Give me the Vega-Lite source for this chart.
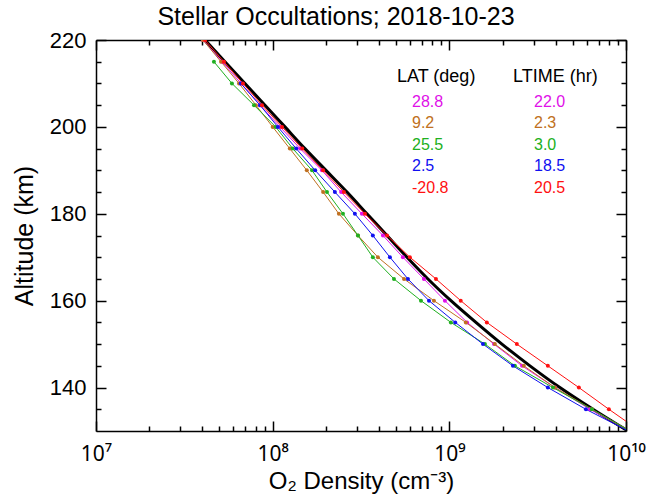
{
  "$schema": "https://vega.github.io/schema/vega-lite/v6.json",
  "width": 530,
  "height": 391,
  "autosize": {"type": "none"},
  "padding": {"left": 96, "top": 40, "right": 22, "bottom": 64},
  "background": "white",
  "config": {
    "view": {"stroke": null},
    "font": "Liberation Sans",
    "axis": {"grid": false, "domainColor": "black", "domainWidth": 1.5, "tickColor": "black", "tickWidth": 1.5, "labelColor": "black", "titleColor": "black", "labelFont": "Liberation Sans", "titleFont": "Liberation Sans", "titleFontWeight": "normal", "labelOverlap": false, "labelFlush": false},
    "legend": {"titleFont": "Liberation Sans", "labelFont": "Liberation Sans", "titleFontWeight": "normal", "titleColor": "black"}
  },
  "title": {"text": "Stellar Occultations; 2018-10-23", "fontSize": 25, "font": "Liberation Sans", "fontWeight": "normal", "color": "black", "anchor": "middle", "frame": "group", "dx": -25, "dy": 7, "offset": 6},
  "datasets": {
    "model": [
      {"alt": 220, "dens": 4.14e7}, {"alt": 215, "dens": 5.37e7}, {"alt": 210, "dens": 6.97e7}, {"alt": 205, "dens": 9.05e7},
      {"alt": 200, "dens": 1.174e8}, {"alt": 195, "dens": 1.523e8}, {"alt": 190, "dens": 2.003e8}, {"alt": 185, "dens": 2.634e8},
      {"alt": 180, "dens": 3.417e8}, {"alt": 175, "dens": 4.436e8}, {"alt": 170, "dens": 5.757e8}, {"alt": 165, "dens": 7.568e8},
      {"alt": 160, "dens": 1.021e9}, {"alt": 155, "dens": 1.414e9}, {"alt": 150, "dens": 1.985e9}, {"alt": 145, "dens": 2.86e9},
      {"alt": 140, "dens": 4.226e9}, {"alt": 135, "dens": 6.5e9}, {"alt": 130, "dens": 1.025e10}
    ],
    "obs": [
      {"lat": "28.8", "ltime": "22.0", "alt": 220, "dens": 4.03e7},
      {"lat": "28.8", "ltime": "22.0", "alt": 215, "dens": 5.17e7},
      {"lat": "28.8", "ltime": "22.0", "alt": 210, "dens": 6.62e7},
      {"lat": "28.8", "ltime": "22.0", "alt": 205, "dens": 8.48e7},
      {"lat": "28.8", "ltime": "22.0", "alt": 200, "dens": 1.1e8},
      {"lat": "28.8", "ltime": "22.0", "alt": 195, "dens": 1.43e8},
      {"lat": "28.8", "ltime": "22.0", "alt": 190, "dens": 1.9e8},
      {"lat": "28.8", "ltime": "22.0", "alt": 185, "dens": 2.44e8},
      {"lat": "28.8", "ltime": "22.0", "alt": 180, "dens": 3.2e8},
      {"lat": "28.8", "ltime": "22.0", "alt": 175, "dens": 4.21e8},
      {"lat": "28.8", "ltime": "22.0", "alt": 170, "dens": 5.46e8},
      {"lat": "28.8", "ltime": "22.0", "alt": 165, "dens": 7.18e8},
      {"lat": "28.8", "ltime": "22.0", "alt": 160, "dens": 9.44e8},
      {"lat": "28.8", "ltime": "22.0", "alt": 155, "dens": 1.26e9},
      {"lat": "28.8", "ltime": "22.0", "alt": 150, "dens": 1.79e9},
      {"lat": "28.8", "ltime": "22.0", "alt": 145, "dens": 2.58e9},
      {"lat": "28.8", "ltime": "22.0", "alt": 140, "dens": 3.96e9},
      {"lat": "28.8", "ltime": "22.0", "alt": 135, "dens": 6.25e9},
      {"lat": "28.8", "ltime": "22.0", "alt": 130, "dens": 1.05e10},
      {"lat": "9.2", "ltime": "2.3", "alt": 220, "dens": 4.03e7},
      {"lat": "9.2", "ltime": "2.3", "alt": 215, "dens": 5.1e7},
      {"lat": "9.2", "ltime": "2.3", "alt": 210, "dens": 6.45e7},
      {"lat": "9.2", "ltime": "2.3", "alt": 205, "dens": 8.04e7},
      {"lat": "9.2", "ltime": "2.3", "alt": 200, "dens": 1.0e8},
      {"lat": "9.2", "ltime": "2.3", "alt": 195, "dens": 1.25e8},
      {"lat": "9.2", "ltime": "2.3", "alt": 190, "dens": 1.56e8},
      {"lat": "9.2", "ltime": "2.3", "alt": 185, "dens": 1.93e8},
      {"lat": "9.2", "ltime": "2.3", "alt": 180, "dens": 2.37e8},
      {"lat": "9.2", "ltime": "2.3", "alt": 175, "dens": 3.04e8},
      {"lat": "9.2", "ltime": "2.3", "alt": 170, "dens": 3.94e8},
      {"lat": "9.2", "ltime": "2.3", "alt": 165, "dens": 5.54e8},
      {"lat": "9.2", "ltime": "2.3", "alt": 160, "dens": 8.18e8},
      {"lat": "9.2", "ltime": "2.3", "alt": 155, "dens": 1.24e9},
      {"lat": "9.2", "ltime": "2.3", "alt": 150, "dens": 1.81e9},
      {"lat": "9.2", "ltime": "2.3", "alt": 145, "dens": 2.64e9},
      {"lat": "9.2", "ltime": "2.3", "alt": 140, "dens": 3.96e9},
      {"lat": "9.2", "ltime": "2.3", "alt": 135, "dens": 6.41e9},
      {"lat": "9.2", "ltime": "2.3", "alt": 130, "dens": 1.05e10},
      {"lat": "25.5", "ltime": "3.0", "alt": 215, "dens": 4.65e7},
      {"lat": "25.5", "ltime": "3.0", "alt": 210, "dens": 5.88e7},
      {"lat": "25.5", "ltime": "3.0", "alt": 205, "dens": 7.84e7},
      {"lat": "25.5", "ltime": "3.0", "alt": 200, "dens": 1.04e8},
      {"lat": "25.5", "ltime": "3.0", "alt": 195, "dens": 1.3e8},
      {"lat": "25.5", "ltime": "3.0", "alt": 190, "dens": 1.67e8},
      {"lat": "25.5", "ltime": "3.0", "alt": 185, "dens": 2.03e8},
      {"lat": "25.5", "ltime": "3.0", "alt": 180, "dens": 2.5e8},
      {"lat": "25.5", "ltime": "3.0", "alt": 175, "dens": 3.04e8},
      {"lat": "25.5", "ltime": "3.0", "alt": 170, "dens": 3.69e8},
      {"lat": "25.5", "ltime": "3.0", "alt": 165, "dens": 4.86e8},
      {"lat": "25.5", "ltime": "3.0", "alt": 160, "dens": 6.91e8},
      {"lat": "25.5", "ltime": "3.0", "alt": 155, "dens": 1.02e9},
      {"lat": "25.5", "ltime": "3.0", "alt": 150, "dens": 1.59e9},
      {"lat": "25.5", "ltime": "3.0", "alt": 145, "dens": 2.35e9},
      {"lat": "25.5", "ltime": "3.0", "alt": 140, "dens": 3.86e9},
      {"lat": "25.5", "ltime": "3.0", "alt": 135, "dens": 6.41e9},
      {"lat": "25.5", "ltime": "3.0", "alt": 130, "dens": 1.05e10},
      {"lat": "2.5", "ltime": "18.5", "alt": 210, "dens": 6.6e7},
      {"lat": "2.5", "ltime": "18.5", "alt": 205, "dens": 8.48e7},
      {"lat": "2.5", "ltime": "18.5", "alt": 200, "dens": 1.07e8},
      {"lat": "2.5", "ltime": "18.5", "alt": 195, "dens": 1.36e8},
      {"lat": "2.5", "ltime": "18.5", "alt": 190, "dens": 1.74e8},
      {"lat": "2.5", "ltime": "18.5", "alt": 185, "dens": 2.25e8},
      {"lat": "2.5", "ltime": "18.5", "alt": 180, "dens": 2.92e8},
      {"lat": "2.5", "ltime": "18.5", "alt": 175, "dens": 3.69e8},
      {"lat": "2.5", "ltime": "18.5", "alt": 170, "dens": 4.61e8},
      {"lat": "2.5", "ltime": "18.5", "alt": 165, "dens": 5.83e8},
      {"lat": "2.5", "ltime": "18.5", "alt": 160, "dens": 7.67e8},
      {"lat": "2.5", "ltime": "18.5", "alt": 155, "dens": 1.08e9},
      {"lat": "2.5", "ltime": "18.5", "alt": 150, "dens": 1.55e9},
      {"lat": "2.5", "ltime": "18.5", "alt": 145, "dens": 2.29e9},
      {"lat": "2.5", "ltime": "18.5", "alt": 140, "dens": 3.61e9},
      {"lat": "2.5", "ltime": "18.5", "alt": 135, "dens": 5.93e9},
      {"lat": "2.5", "ltime": "18.5", "alt": 130, "dens": 1.03e10},
      {"lat": "-20.8", "ltime": "20.5", "alt": 220, "dens": 4.14e7},
      {"lat": "-20.8", "ltime": "20.5", "alt": 215, "dens": 5.3e7},
      {"lat": "-20.8", "ltime": "20.5", "alt": 210, "dens": 6.79e7},
      {"lat": "-20.8", "ltime": "20.5", "alt": 205, "dens": 8.7e7},
      {"lat": "-20.8", "ltime": "20.5", "alt": 200, "dens": 1.13e8},
      {"lat": "-20.8", "ltime": "20.5", "alt": 195, "dens": 1.47e8},
      {"lat": "-20.8", "ltime": "20.5", "alt": 190, "dens": 1.93e8},
      {"lat": "-20.8", "ltime": "20.5", "alt": 185, "dens": 2.53e8},
      {"lat": "-20.8", "ltime": "20.5", "alt": 180, "dens": 3.33e8},
      {"lat": "-20.8", "ltime": "20.5", "alt": 175, "dens": 4.44e8},
      {"lat": "-20.8", "ltime": "20.5", "alt": 170, "dens": 5.98e8},
      {"lat": "-20.8", "ltime": "20.5", "alt": 165, "dens": 8.4e8},
      {"lat": "-20.8", "ltime": "20.5", "alt": 160, "dens": 1.16e9},
      {"lat": "-20.8", "ltime": "20.5", "alt": 155, "dens": 1.63e9},
      {"lat": "-20.8", "ltime": "20.5", "alt": 150, "dens": 2.41e9},
      {"lat": "-20.8", "ltime": "20.5", "alt": 145, "dens": 3.61e9},
      {"lat": "-20.8", "ltime": "20.5", "alt": 140, "dens": 5.41e9},
      {"lat": "-20.8", "ltime": "20.5", "alt": 135, "dens": 8.0e9},
      {"lat": "-20.8", "ltime": "20.5", "alt": 130, "dens": 1.2e10}
    ]
  },
  "resolve": {"axis": {"x": "independent", "y": "independent"}},
  "layer": [
    {
      "data": {"name": "model"},
      "mark": {"type": "line", "color": "black", "strokeWidth": 3, "interpolate": "monotone", "clip": true},
      "encoding": {
        "x": {"field": "dens", "type": "quantitative",
              "scale": {"type": "log", "domain": [10000000, 10000000000], "nice": false},
              "axis": {"orient": "bottom", "title": "O₂ Density (cm⁻³)", "titleFontSize": 24, "titlePadding": 0, "labelFont": "Noto Sans", "labelFontSize": 21, "labelPadding": 22,
                       "values": [10000000, 20000000, 30000000, 40000000, 50000000, 60000000, 70000000, 80000000, 90000000, 100000000, 200000000, 300000000, 400000000, 500000000, 600000000, 700000000, 800000000, 900000000, 1000000000, 2000000000, 3000000000, 4000000000, 5000000000, 6000000000, 7000000000, 8000000000, 9000000000, 10000000000],
                       "labelExpr": "datum.value == 10000000 ? '10⁷' : datum.value == 100000000 ? '10⁸' : datum.value == 1000000000 ? '10⁹' : datum.value == 10000000000 ? '10¹⁰' : ''",
                       "tickSize": {"condition": {"test": "indexof([10000000, 100000000, 1000000000, 10000000000], datum.value) >= 0", "value": -10}, "value": -5}}},
        "y": {"field": "alt", "type": "quantitative",
              "scale": {"domain": [130, 220], "nice": false, "zero": false},
              "axis": {"orient": "left", "title": "Altitude (km)", "titleFontSize": 25, "titlePadding": 12, "labelFontSize": 22, "labelPadding": 20,
                       "values": [135, 140, 145, 150, 155, 160, 165, 170, 175, 180, 185, 190, 195, 200, 205, 210, 215, 220],
                       "labelExpr": "datum.value % 20 == 0 ? datum.label : ''",
                       "tickSize": {"condition": {"test": "datum.value % 20 == 0", "value": -10}, "value": -5}}}
      }
    },
    {
      "data": {"name": "obs"},
      "mark": {"type": "line", "strokeWidth": 1, "clip": true},
      "encoding": {
        "x": {"field": "dens", "type": "quantitative",
              "axis": {"orient": "top", "title": null, "labels": false,
                       "values": [10000000, 20000000, 30000000, 40000000, 50000000, 60000000, 70000000, 80000000, 90000000, 100000000, 200000000, 300000000, 400000000, 500000000, 600000000, 700000000, 800000000, 900000000, 1000000000, 2000000000, 3000000000, 4000000000, 5000000000, 6000000000, 7000000000, 8000000000, 9000000000, 10000000000],
                       "tickSize": {"condition": {"test": "indexof([10000000, 100000000, 1000000000, 10000000000], datum.value) >= 0", "value": -10}, "value": -5}}},
        "y": {"field": "alt", "type": "quantitative",
              "axis": {"orient": "right", "title": null, "labels": false,
                       "values": [135, 140, 145, 150, 155, 160, 165, 170, 175, 180, 185, 190, 195, 200, 205, 210, 215, 220],
                       "tickSize": {"condition": {"test": "datum.value % 20 == 0", "value": -10}, "value": -5}}},
        "color": {"field": "lat", "type": "nominal",
                  "scale": {"domain": ["28.8", "9.2", "25.5", "2.5", "-20.8"], "range": ["#e010e8", "#c07020", "#20b020", "#1010f0", "#ff1010"]},
                  "legend": {"orient": "none", "legendX": 301, "legendY": 28, "title": "LAT (deg)", "titleFontSize": 18, "labelFontSize": 16, "titlePadding": 7.5, "rowPadding": 5.5, "symbolSize": 0, "symbolOpacity": 0, "symbolStrokeWidth": 0, "labelOffset": -1,
                             "encode": {"labels": {"update": {"fill": {"scale": "color", "field": "value"}}}}}},
        "order": {"field": "alt", "sort": "descending"}
      }
    },
    {
      "data": {"name": "obs"},
      "mark": {"type": "point", "filled": true, "size": 16, "opacity": 1, "clip": true},
      "encoding": {
        "x": {"field": "dens", "type": "quantitative", "axis": null},
        "y": {"field": "alt", "type": "quantitative", "axis": null},
        "fill": {"field": "ltime", "type": "nominal",
                 "scale": {"domain": ["22.0", "2.3", "3.0", "18.5", "20.5"], "range": ["#e010e8", "#c07020", "#20b020", "#1010f0", "#ff1010"]},
                 "legend": {"orient": "none", "legendX": 417, "legendY": 28, "title": "LTIME (hr)", "titleFontSize": 18, "labelFontSize": 16, "titlePadding": 7.5, "rowPadding": 5.5, "symbolSize": 0, "symbolOpacity": 0, "symbolStrokeWidth": 0, "labelOffset": 5,
                            "encode": {"labels": {"update": {"fill": {"scale": "fill", "field": "value"}}}}}}
      }
    }
  ]
}
